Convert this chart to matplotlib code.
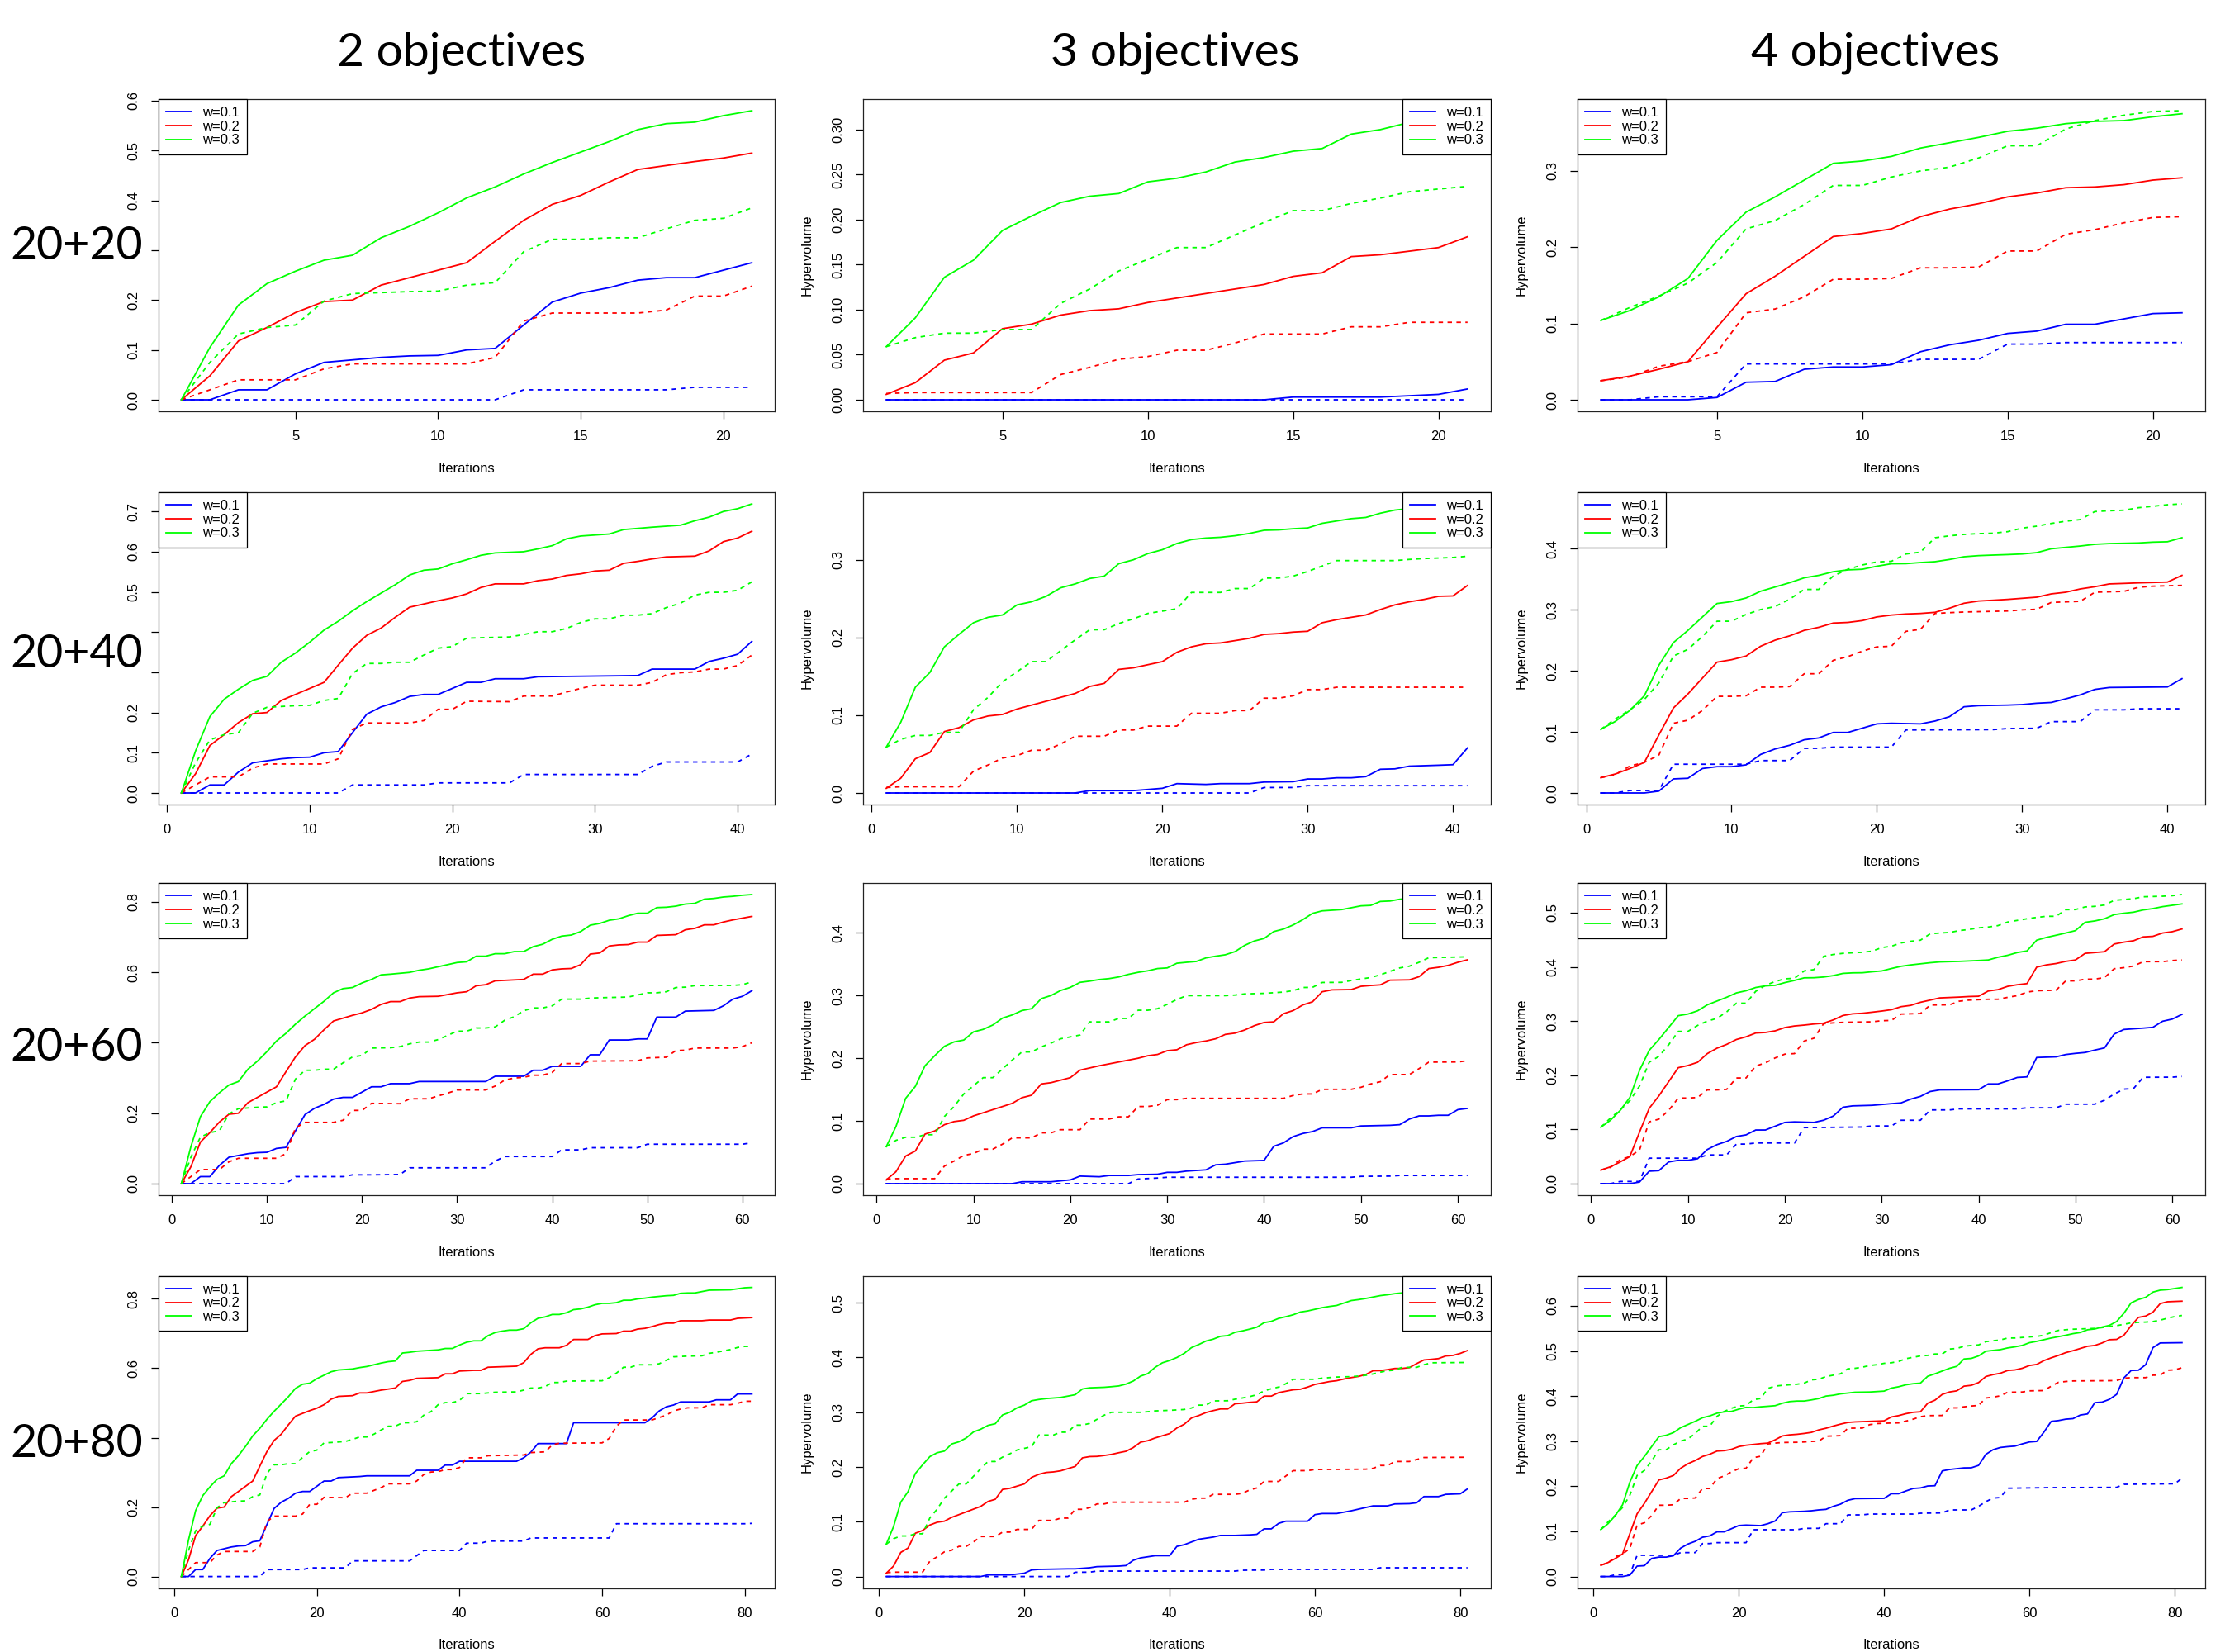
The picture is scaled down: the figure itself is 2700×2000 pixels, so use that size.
"""Hypervolume vs iterations grid: 2/3/4 objectives x 20+20..20+80 budgets."""

import matplotlib
matplotlib.use("Agg")
import matplotlib.pyplot as plt
from matplotlib.ticker import MultipleLocator

# ---------------------------------------------------------------- data
# each series is a list of (iteration, hypervolume); "_d" = dashed run.
# longer budgets share the first 21 iterations with the 20+20 run.
it20 = range(1, 22)

# 2 objectives, 20+20
o2_i20_w1 = list(zip(it20, [0, 0, .02, .02, .052, .075, .08, .085, .088, .089, .1, .103, .15, .196, .214, .225, .24, .245, .245, .26, .275]))
o2_i20_w1_d = list(zip(it20, [0, 0, 0, 0, 0, 0, 0, 0, 0, 0, 0, 0, .02, .02, .02, .02, .02, .02, .025, .025, .025]))
o2_i20_w2 = list(zip(it20, [0, .048, .118, .145, .175, .197, .2, .23, .245, .26, .275, .318, .36, .392, .41, .437, .462, .47, .478, .485, .495]))
o2_i20_w2_d = list(zip(it20, [0, .02, .04, .04, .04, .062, .072, .072, .072, .072, .072, .085, .158, .174, .174, .174, .174, .18, .208, .208, .228]))
o2_i20_w3 = list(zip(it20, [0, .105, .19, .233, .258, .28, .29, .325, .348, .375, .405, .427, .453, .476, .497, .518, .542, .554, .557, .57, .58]))
o2_i20_w3_d = list(zip(it20, [0, .075, .132, .145, .15, .198, .213, .215, .217, .218, .23, .235, .297, .322, .322, .325, .325, .343, .36, .364, .385]))

# 3 objectives, 20+20
o3_i20_w1 = list(zip(it20, [0, 0, 0, 0, 0, 0, 0, 0, 0, 0, 0, 0, 0, 0, .003, .003, .003, .003, .0045, .006, .012]))
o3_i20_w1_d = list(zip(it20, [0, 0, 0, 0, 0, 0, 0, 0, 0, 0, 0, 0, 0, 0, 0, 0, 0, 0, 0, 0, 0]))
o3_i20_w2 = list(zip(it20, [.006, .019, .044, .052, .079, .084, .094, .099, .101, .108, .113, .118, .123, .128, .137, .141, .159, .161, .165, .169, .181]))
o3_i20_w2_d = list(zip(it20, [.007, .008, .008, .008, .008, .008, .028, .036, .045, .048, .055, .055, .063, .073, .073, .073, .081, .081, .086, .086, .086]))
o3_i20_w3 = list(zip(it20, [.059, .091, .136, .155, .188, .204, .219, .226, .229, .242, .246, .253, .264, .269, .276, .279, .295, .3, .308, .313, .321]))
o3_i20_w3_d = list(zip(it20, [.059, .069, .074, .074, .078, .078, .107, .123, .143, .156, .169, .169, .183, .197, .21, .21, .218, .224, .231, .234, .237]))

# 4 objectives, 20+20
o4_i20_w1 = list(zip(it20, [0, 0, 0, 0, .003, .023, .024, .04, .043, .043, .046, .063, .072, .078, .087, .09, .099, .099, .106, .113, .114]))
o4_i20_w1_d = list(zip(it20, [0, 0, .004, .004, .004, .047, .047, .047, .047, .047, .047, .053, .053, .053, .073, .073, .075, .075, .075, .075, .075]))
o4_i20_w2 = list(zip(it20, [.025, .031, .04, .05, .095, .139, .162, .188, .214, .218, .224, .24, .25, .257, .266, .271, .278, .279, .282, .288, .291]))
o4_i20_w2_d = list(zip(it20, [.025, .03, .044, .05, .062, .114, .119, .135, .158, .158, .159, .173, .173, .174, .195, .195, .217, .223, .232, .239, .24]))
o4_i20_w3 = list(zip(it20, [.104, .117, .135, .159, .209, .246, .266, .288, .31, .313, .319, .33, .337, .344, .352, .356, .362, .365, .366, .371, .375]))
o4_i20_w3_d = list(zip(it20, [.104, .121, .136, .153, .18, .224, .235, .256, .281, .281, .292, .3, .305, .317, .333, .333, .355, .366, .373, .378, .379]))

# 2 objectives, 20+40
o2_i40_w1 = o2_i20_w1 + [(22, .275), (23, .284), (25, .284), (26, .289), (33, .292), (34, .308), (37, .308), (38, .327), (39, .335), (40, .345), (41, .377)]
o2_i40_w1_d = o2_i20_w1_d + [(24, .025), (25, .046), (33, .046), (34, .066), (35, .077), (40, .077), (41, .097)]
o2_i40_w2 = o2_i20_w2 + [(22, .511), (23, .52), (25, .52), (26, .528), (27, .532), (28, .541), (29, .545), (30, .552), (31, .554), (32, .571), (33, .576),
                         (34, .582), (35, .587), (37, .589), (38, .602), (39, .625), (40, .634), (41, .651)]
o2_i40_w2_d = o2_i20_w2_d + [(24, .227), (25, .241), (27, .241), (28, .251), (29, .26), (30, .268), (33, .268), (34, .275), (35, .294), (36, .299),
                             (37, .301), (38, .308), (39, .308), (40, .317), (41, .343)]
o2_i40_w3 = o2_i20_w3 + [(22, .591), (23, .597), (25, .6), (26, .607), (27, .615), (28, .632), (29, .639), (31, .644), (32, .655), (34, .661),
                         (36, .666), (37, .677), (38, .686), (39, .7), (40, .707), (41, .719)]
o2_i40_w3_d = o2_i20_w3_d + [(23, .387), (24, .388), (25, .394), (26, .401), (27, .401), (28, .409), (29, .424), (30, .433), (31, .433), (32, .442),
                             (33, .442), (34, .446), (35, .461), (36, .472), (37, .492), (38, .499), (39, .499), (40, .504), (41, .525)]

# 2 objectives, 20+60
o2_i60_w1 = o2_i20_w1 + [(22, .275), (23, .284), (25, .284), (26, .29), (33, .29), (34, .305), (37, .305), (38, .322), (39, .322), (40, .333),
                         (43, .333), (44, .366), (45, .366), (46, .408), (48, .408), (49, .411), (50, .411), (51, .473), (53, .473), (54, .49),
                         (57, .492), (58, .505), (59, .524), (60, .532), (61, .548)]
o2_i60_w1_d = o2_i20_w1_d + [(24, .026), (25, .045), (33, .045), (34, .064), (35, .077), (40, .077), (41, .096), (43, .096), (44, .102), (49, .102),
                             (50, .112), (60, .112), (61, .116)]
o2_i60_w2 = o2_i20_w2 + [(22, .509), (23, .517), (24, .517), (25, .527), (26, .531), (28, .532), (29, .537), (30, .542), (31, .545), (32, .562),
                         (33, .565), (34, .576), (37, .58), (38, .595), (39, .595), (40, .607), (41, .61), (42, .611), (43, .622), (44, .652),
                         (45, .655), (46, .675), (47, .678), (48, .679), (49, .686), (50, .686), (51, .705), (52, .706), (53, .707), (54, .721),
                         (55, .725), (56, .735), (57, .735), (58, .743), (59, .749), (60, .754), (61, .759)]
o2_i60_w2_d = o2_i20_w2_d + [(24, .227), (25, .241), (27, .241), (28, .249), (29, .257), (30, .266), (33, .266), (34, .277), (35, .294), (36, .3),
                             (37, .302), (38, .308), (39, .308), (40, .316), (41, .341), (43, .341), (44, .348), (49, .349), (50, .357), (52, .359),
                             (53, .378), (54, .379), (55, .385), (59, .385), (60, .389), (61, .4)]
o2_i60_w3 = o2_i20_w3 + [(22, .593), (23, .595), (25, .6), (26, .606), (27, .61), (28, .616), (29, .622), (30, .628), (31, .63), (32, .646),
                         (33, .646), (34, .653), (35, .653), (36, .659), (37, .659), (38, .673), (39, .68), (40, .694), (41, .703), (42, .706),
                         (43, .716), (44, .734), (45, .739), (46, .748), (47, .752), (48, .761), (49, .768), (50, .768), (51, .784), (52, .785),
                         (53, .788), (54, .794), (55, .796), (56, .808), (57, .81), (58, .814), (59, .816), (60, .819), (61, .821)]
o2_i60_w3_d = o2_i20_w3_d + [(23, .386), (24, .389), (25, .397), (26, .402), (27, .402), (28, .409), (29, .421), (30, .433), (31, .433), (32, .442),
                             (33, .442), (34, .445), (35, .464), (36, .474), (37, .491), (38, .499), (39, .499), (40, .505), (41, .524), (43, .524),
                             (44, .527), (45, .528), (48, .53), (49, .536), (50, .542), (51, .542), (52, .545), (53, .557), (54, .558), (55, .5625),
                             (59, .563), (60, .565), (61, .573)]

# 2 objectives, 20+80
o2_i80_w1 = o2_i20_w1 + [(22, .275), (23, .285), (26, .288), (27, .29), (33, .29), (34, .306), (37, .306), (38, .321), (39, .321), (40, .332),
                         (48, .332), (49, .342), (50, .358), (51, .383), (55, .383), (56, .443), (66, .443), (67, .457), (68, .477), (69, .489),
                         (70, .494), (71, .503), (75, .503), (76, .509), (78, .509), (79, .526), (81, .526)]
o2_i80_w1_d = o2_i20_w1_d + [(24, .025), (25, .045), (33, .045), (34, .06), (35, .075), (40, .075), (41, .096), (43, .096), (44, .102), (49, .102),
                             (50, .111), (61, .111), (62, .152), (80, .152), (81, .153)]
o2_i80_w2 = o2_i20_w2 + [(22, .511), (23, .519), (25, .521), (26, .529), (27, .529), (28, .533), (29, .537), (30, .54), (31, .543), (32, .562),
                         (33, .565), (34, .571), (37, .573), (38, .584), (39, .584), (40, .592), (42, .594), (43, .594), (44, .603), (48, .606),
                         (49, .616), (50, .64), (51, .656), (52, .659), (54, .659), (55, .666), (56, .683), (58, .683), (59, .694), (60, .699),
                         (62, .7), (63, .707), (64, .707), (65, .713), (66, .715), (67, .72), (68, .726), (69, .73), (70, .73), (71, .737),
                         (74, .737), (75, .739), (78, .739), (79, .744), (81, .746)]
o2_i80_w2_d = o2_i20_w2_d + [(24, .227), (25, .24), (27, .24), (28, .248), (29, .256), (30, .267), (33, .267), (34, .275), (35, .294), (36, .301),
                             (37, .302), (38, .308), (39, .308), (40, .314), (41, .342), (43, .342), (44, .348), (49, .35), (50, .357), (52, .359),
                             (53, .379), (54, .384), (60, .385), (61, .398), (62, .433), (63, .451), (67, .451), (68, .458), (69, .465), (70, .477),
                             (71, .4825), (72, .486), (74, .486), (75, .495), (78, .495), (79, .499), (80, .505), (81, .505)]
o2_i80_w3 = o2_i20_w3 + [(22, .59), (23, .595), (25, .598), (26, .602), (27, .605), (28, .61), (29, .615), (30, .619), (31, .621), (32, .644),
                         (33, .646), (34, .649), (37, .653), (38, .657), (39, .657), (40, .667), (41, .675), (42, .679), (43, .679), (44, .694),
                         (45, .703), (46, .707), (47, .71), (48, .71), (49, .714), (50, .731), (51, .744), (52, .748), (53, .755), (54, .755),
                         (55, .76), (56, .769), (57, .771), (58, .776), (59, .783), (60, .787), (61, .787), (62, .789), (63, .796), (64, .796),
                         (65, .8), (66, .802), (67, .805), (68, .807), (69, .809), (70, .81), (71, .816), (72, .817), (73, .817), (74, .821),
                         (75, .825), (78, .826), (79, .829), (80, .832), (81, .833)]
o2_i80_w3_d = o2_i20_w3_d + [(22, .386), (24, .389), (25, .395), (26, .402), (27, .402), (28, .41), (29, .422), (30, .433), (31, .433), (32, .443),
                             (33, .443), (34, .446), (35, .465), (36, .475), (37, .495), (38, .501), (39, .501), (40, .507), (41, .527), (43, .527),
                             (44, .529), (45, .531), (48, .532), (49, .537), (50, .543), (51, .543), (52, .547), (53, .559), (54, .559), (55, .563),
                             (60, .564), (61, .573), (62, .586), (63, .603), (64, .603), (65, .61), (67, .61), (68, .613), (69, .623), (70, .633),
                             (72, .635), (74, .636), (75, .643), (76, .646), (77, .65), (78, .654), (79, .66), (80, .663), (81, .663)]

# 3 objectives, 20+40
o3_i40_w1 = o3_i20_w1 + [(23, .011), (24, .012), (26, .012), (27, .014), (29, .0145), (30, .018), (31, .018), (32, .0195), (33, .0195), (34, .021),
                         (35, .0305), (36, .031), (37, .0345), (39, .0357), (40, .0364), (41, .058)]
o3_i40_w1_d = o3_i20_w1_d + [(26, 0), (27, .007), (29, .007), (30, .0094), (41, .0094)]
o3_i40_w2 = o3_i20_w2 + [(22, .188), (23, .192), (24, .193), (25, .196), (26, .199), (27, .204), (28, .205), (29, .207), (30, .208), (31, .219),
                         (32, .223), (33, .226), (34, .229), (35, .236), (36, .242), (37, .246), (38, .249), (39, .253), (40, .2535), (41, .267)]
o3_i40_w2_d = o3_i20_w2_d + [(22, .1025), (24, .1025), (25, .106), (26, .106), (27, .122), (28, .122), (29, .125), (30, .133), (31, .133),
                             (32, .136), (41, .136)]
o3_i40_w3 = o3_i20_w3 + [(22, .326), (23, .328), (24, .329), (25, .331), (26, .334), (27, .338), (28, .3385), (29, .34), (30, .341), (31, .347),
                         (32, .35), (33, .353), (34, .3545), (35, .36), (36, .364), (37, .366), (38, .368), (39, .369), (40, .37), (41, .372)]
o3_i40_w3_d = o3_i20_w3_d + [(22, .258), (24, .258), (25, .263), (26, .263), (27, .2765), (28, .2765), (29, .279), (30, .285), (31, .292),
                             (32, .299), (36, .299), (37, .3005), (38, .3016), (40, .303), (41, .3046)]

# 3 objectives, 20+60
o3_i60_w1 = o3_i20_w1 + [(23, .011), (24, .013), (26, .013), (27, .0144), (29, .015), (30, .018), (31, .018), (32, .02), (34, .022), (35, .03),
                         (36, .031), (37, .0335), (38, .036), (40, .037), (41, .0596), (42, .065), (43, .075), (44, .08), (45, .083), (46, .089),
                         (49, .089), (50, .092), (53, .093), (54, .094), (55, .103), (56, .108), (57, .108), (58, .109), (59, .109), (60, .118),
                         (61, .12)]
o3_i60_w1_d = o3_i20_w1_d + [(26, 0), (27, .0074), (29, .009), (30, .0102), (49, .0102), (50, .0116), (53, .012), (54, .013), (61, .013)]
o3_i60_w2 = o3_i20_w2 + [(22, .1845), (23, .188), (24, .191), (25, .194), (26, .197), (27, .2), (28, .204), (29, .206), (30, .212), (31, .2135),
                         (32, .2215), (33, .225), (34, .2275), (35, .231), (36, .238), (37, .24), (38, .245), (39, .252), (40, .257), (41, .258),
                         (42, .271), (43, .276), (44, .285), (45, .29), (46, .306), (47, .309), (49, .3095), (50, .3147), (51, .316), (52, .317),
                         (53, .3245), (55, .325), (56, .33), (57, .343), (58, .345), (59, .348), (60, .353), (61, .357)]
o3_i60_w2_d = o3_i20_w2_d + [(22, .103), (24, .103), (25, .1066), (26, .1066), (27, .123), (28, .123), (29, .125), (30, .134), (31, .134),
                             (32, .136), (42, .136), (43, .1406), (44, .143), (45, .143), (46, .1504), (49, .1504), (50, .1536), (51, .159),
                             (52, .1625), (53, .174), (55, .174), (56, .1834), (57, .1937), (60, .194), (61, .196)]
o3_i60_w3 = o3_i20_w3 + [(22, .323), (23, .3255), (24, .327), (25, .3296), (26, .3338), (27, .337), (28, .3394), (29, .343), (30, .344),
                         (31, .3515), (32, .353), (33, .3543), (34, .36), (35, .3627), (36, .365), (37, .37), (38, .38), (39, .387), (40, .391),
                         (41, .402), (42, .406), (43, .4125), (44, .421), (45, .431), (46, .435), (47, .436), (48, .437), (49, .44), (50, .443),
                         (51, .4437), (52, .45), (53, .4507), (54, .4535), (55, .455), (57, .456), (59, .458), (61, .461)]
o3_i60_w3_d = o3_i20_w3_d + [(22, .258), (24, .258), (25, .2635), (26, .2635), (27, .2765), (28, .2765), (29, .279), (30, .286), (31, .2937),
                             (32, .2998), (36, .2998), (37, .3007), (38, .3026), (40, .3035), (42, .3055), (43, .3077), (44, .3128), (45, .313),
                             (46, .3208), (48, .321), (49, .324), (50, .3264), (51, .3287), (52, .333), (53, .3385), (54, .344), (55, .3468),
                             (56, .353), (57, .3603), (61, .3617)]

# 3 objectives, 20+80
o3_i80_w1 = o3_i20_w1 + [(22, .013), (26, .014), (27, .014), (29, .016), (30, .018), (33, .019), (34, .02), (35, .0296), (36, .034), (37, .036),
                         (38, .038), (40, .038), (41, .055), (42, .058), (43, .063), (44, .068), (45, .07), (46, .072), (47, .075), (49, .075),
                         (51, .076), (52, .077), (53, .087), (54, .087), (55, .097), (56, .101), (59, .101), (60, .113), (61, .115), (63, .115),
                         (64, .1175), (65, .12), (66, .123), (67, .126), (68, .129), (70, .129), (71, .1325), (73, .133), (74, .1346), (75, .146),
                         (77, .146), (78, .15), (80, .151), (81, .16)]
o3_i80_w1_d = o3_i20_w1_d + [(26, 0), (27, .0078), (29, .008), (30, .0099), (49, .0099), (50, .0114), (53, .0118), (54, .013), (68, .013),
                             (69, .016), (81, .016)]
o3_i80_w2 = o3_i20_w2 + [(22, .1866), (23, .19), (24, .191), (25, .193), (26, .197), (27, .201), (28, .2167), (29, .219), (30, .2193), (31, .221),
                         (32, .223), (33, .226), (34, .2287), (35, .2355), (36, .2453), (37, .248), (38, .253), (39, .257), (40, .261),
                         (41, .2713), (42, .278), (43, .2895), (44, .294), (45, .2994), (46, .303), (47, .306), (48, .306), (49, .3155),
                         (50, .3165), (51, .318), (52, .319), (53, .3295), (54, .3295), (55, .3358), (56, .3384), (57, .341), (58, .342),
                         (59, .346), (60, .3508), (61, .3534), (62, .356), (63, .3576), (64, .3607), (65, .3633), (66, .3654), (67, .369),
                         (68, .3758), (69, .376), (70, .3779), (71, .38), (72, .38), (73, .3815), (74, .3888), (75, .3955), (76, .3966),
                         (77, .398), (78, .4028), (79, .4038), (80, .4075), (81, .4127)]
o3_i80_w2_d = o3_i20_w2_d + [(22, .1024), (24, .1024), (25, .1066), (26, .1066), (27, .1227), (28, .1227), (29, .1258), (30, .1325), (31, .1325),
                             (32, .1357), (42, .1357), (43, .141), (44, .143), (45, .143), (46, .15), (49, .15), (50, .1518), (51, .158),
                             (52, .1617), (53, .1736), (55, .1736), (56, .1835), (57, .1933), (59, .1933), (60, .1954), (67, .196), (68, .1975),
                             (69, .2027), (70, .2027), (71, .21), (73, .21), (74, .2136), (75, .2173), (81, .2178)]
o3_i80_w3 = o3_i20_w3 + [(22, .3233), (23, .325), (24, .326), (25, .327), (26, .3295), (27, .332), (28, .3425), (29, .3446), (31, .3456),
                         (32, .3467), (33, .348), (34, .3514), (35, .357), (36, .366), (37, .3706), (38, .382), (39, .3903), (40, .3945),
                         (41, .4), (42, .4075), (43, .418), (44, .4236), (45, .43), (46, .4335), (47, .4387), (48, .44), (49, .446), (50, .4485),
                         (51, .4517), (52, .4553), (53, .4636), (54, .466), (55, .4714), (56, .4745), (57, .478), (58, .483), (59, .485),
                         (60, .488), (61, .491), (62, .4932), (63, .495), (64, .4995), (65, .504), (66, .5057), (67, .5078), (68, .5104),
                         (69, .513), (70, .5146), (71, .5166), (72, .518), (74, .521), (77, .524), (79, .526), (81, .528)]
o3_i80_w3_d = o3_i20_w3_d + [(22, .2583), (24, .2583), (25, .2635), (26, .2635), (27, .2765), (28, .2765), (29, .2796), (30, .287), (31, .2947),
                             (32, .2999), (36, .2999), (37, .301), (38, .3025), (40, .3035), (42, .305), (43, .3077), (44, .313), (45, .313),
                             (46, .3207), (48, .321), (49, .3238), (50, .326), (51, .3285), (52, .332), (53, .339), (54, .343), (55, .346),
                             (56, .352), (57, .3602), (60, .3602), (61, .3623), (62, .3633), (63, .3643), (65, .365), (66, .366), (67, .3675),
                             (68, .37), (69, .3732), (70, .3758), (71, .3768), (72, .382), (74, .382), (75, .3867), (76, .3903), (81, .3909)]

# 4 objectives, 20+40
o4_i40_w1 = o4_i20_w1 + [(23, .113), (24, .1176), (25, .1248), (26, .141), (27, .1428), (29, .1437), (30, .1446), (31, .1468), (32, .148),
                         (33, .154), (34, .1604), (35, .1694), (36, .1725), (40, .1734), (41, .187)]
o4_i40_w1_d = o4_i20_w1_d + [(22, .103), (28, .1036), (29, .1054), (31, .1058), (32, .1167), (34, .1167), (35, .136), (37, .136), (38, .1378),
                             (41, .1378)]
o4_i40_w2 = o4_i20_w2 + [(22, .2928), (23, .2937), (24, .2955), (25, .3023), (26, .3104), (27, .314), (28, .3153), (29, .3167), (30, .3185),
                         (31, .3203), (32, .3257), (33, .3284), (34, .3338), (35, .3374), (36, .342), (37, .3428), (38, .3437), (40, .345),
                         (41, .356)]
o4_i40_w2_d = o4_i20_w2_d + [(22, .2644), (23, .2676), (24, .2937), (25, .295), (26, .296), (29, .2977), (30, .2995), (31, .3005), (32, .3117),
                             (33, .3126), (34, .3135), (35, .3284), (37, .3297), (38, .3365), (39, .3383), (41, .3396)]
o4_i40_w3 = o4_i20_w3 + [(22, .3752), (23, .377), (24, .3784), (25, .382), (26, .3865), (27, .3883), (28, .3892), (29, .39), (30, .391),
                         (31, .3932), (32, .3995), (33, .4018), (34, .404), (35, .4068), (36, .408), (38, .409), (39, .4104), (40, .411),
                         (41, .4176)]
o4_i40_w3_d = o4_i20_w3_d + [(22, .391), (23, .394), (24, .4176), (25, .4207), (26, .423), (27, .4243), (28, .425), (29, .4275), (30, .4333),
                             (31, .4365), (32, .441), (33, .4446), (34, .4473), (35, .4604), (36, .4617), (37, .4626), (38, .4667), (39, .469),
                             (40, .4716), (41, .473)]

# 4 objectives, 20+60
o4_i60_w1 = o4_i20_w1 + [(23, .113), (24, .117), (25, .1247), (26, .141), (27, .1435), (29, .1445), (30, .146), (31, .1476), (32, .149),
                         (33, .156), (34, .161), (35, .17), (36, .173), (40, .1734), (41, .184), (42, .184), (43, .1897), (44, .196), (45, .197),
                         (46, .2328), (48, .234), (49, .2383), (50, .2404), (51, .242), (52, .2465), (53, .2505), (54, .276), (55, .2845),
                         (57, .287), (58, .2885), (59, .2997), (60, .3037), (61, .3124)]
o4_i60_w1_d = o4_i20_w1_d + [(22, .1034), (28, .1045), (29, .1065), (31, .1065), (32, .117), (34, .117), (35, .136), (37, .136), (38, .138),
                             (44, .138), (45, .14), (48, .14), (49, .1466), (52, .1466), (53, .154), (54, .1653), (55, .1744), (56, .1755),
                             (57, .1963), (60, .1965), (61, .1978)]
o4_i60_w2 = o4_i20_w2 + [(22, .2926), (23, .2946), (24, .2961), (25, .3022), (26, .3103), (27, .3134), (28, .3144), (29, .3164), (30, .3185),
                         (31, .321), (32, .3266), (33, .329), (34, .3347), (35, .3387), (36, .3428), (38, .3443), (39, .3453), (40, .3458),
                         (41, .3555), (42, .358), (43, .3641), (44, .3671), (45, .3692), (46, .3996), (47, .4037), (48, .4062), (49, .4102),
                         (50, .4128), (51, .425), (52, .4265), (53, .428), (54, .4422), (55, .4457), (56, .4483), (57, .4554), (58, .4564),
                         (59, .4625), (60, .465), (61, .47)]
o4_i60_w2_d = o4_i20_w2_d + [(22, .2632), (23, .2683), (24, .2951), (25, .2967), (26, .2977), (29, .2987), (30, .3007), (31, .3012), (32, .3129),
                             (34, .3139), (35, .3296), (37, .33), (38, .3367), (39, .3387), (41, .3403), (42, .3403), (43, .3438), (44, .3469),
                             (45, .3535), (46, .356), (48, .357), (49, .3742), (50, .3742), (51, .3773), (52, .3775), (53, .3803), (54, .3966),
                             (55, .3986), (56, .4016), (57, .4097), (59, .4097), (60, .4118), (61, .4128)]
o4_i60_w3 = o4_i20_w3 + [(22, .3798), (23, .38), (24, .3813), (25, .3839), (26, .388), (27, .389), (28, .3892), (29, .391), (30, .3925),
                         (31, .397), (32, .4011), (33, .4037), (34, .4057), (35, .4077), (36, .4092), (38, .4102), (40, .4118), (41, .4128),
                         (42, .4178), (43, .4214), (44, .4265), (45, .4295), (46, .4493), (47, .4544), (48, .4584), (49, .4625), (50, .467),
                         (51, .4823), (52, .4848), (53, .4888), (54, .4965), (55, .499), (56, .501), (57, .5051), (58, .5076), (59, .5112),
                         (60, .5137), (61, .5162)]
o4_i60_w3_d = o4_i20_w3_d + [(22, .3925), (23, .395), (24, .4194), (25, .4229), (26, .425), (27, .426), (28, .427), (29, .429), (30, .4356),
                             (31, .4381), (32, .4442), (33, .4473), (34, .4493), (35, .461), (36, .4625), (37, .4635), (38, .467), (39, .469),
                             (40, .4721), (41, .4736), (42, .4762), (43, .4828), (44, .4858), (45, .4888), (46, .4914), (47, .4934), (48, .4934),
                             (49, .5056), (50, .5058), (51, .5107), (52, .5117), (53, .5142), (54, .5228), (55, .5243), (56, .5259), (57, .5294),
                             (59, .5304), (60, .5314), (61, .5335)]

# 4 objectives, 20+80
o4_i80_w1 = o4_i20_w1 + [(23, .1128), (24, .117), (25, .123), (26, .1415), (27, .1433), (29, .1445), (30, .1457), (31, .1476), (32, .1488),
                         (33, .1555), (34, .1604), (35, .1689), (36, .1726), (40, .1732), (41, .1835), (42, .1835), (43, .1896), (44, .1951),
                         (45, .1963), (46, .2006), (47, .2012), (48, .2341), (49, .2372), (50, .239), (51, .2408), (52, .241), (53, .2463),
                         (54, .2707), (55, .2811), (56, .286), (57, .2878), (58, .289), (59, .2939), (60, .2982), (61, .2994), (62, .3201),
                         (63, .3439), (64, .3457), (65, .3488), (66, .35), (67, .3579), (68, .3604), (69, .3854), (70, .3866), (71, .3927),
                         (72, .4037), (73, .4402), (74, .4567), (75, .4573), (76, .4695), (77, .5073), (78, .5177), (81, .5183)]
o4_i80_w1_d = o4_i20_w1_d + [(22, .1037), (28, .1037), (29, .1067), (31, .1067), (32, .117), (34, .117), (35, .1366), (37, .1366), (38, .1384),
                             (44, .1384), (45, .1402), (48, .1409), (49, .1476), (52, .1476), (53, .1555), (54, .1659), (55, .1738), (56, .175),
                             (57, .1957), (63, .197), (72, .1976), (73, .2043), (80, .2055), (81, .2177)]
o4_i80_w2 = o4_i20_w2 + [(22, .2927), (23, .2945), (24, .2957), (25, .303), (26, .3116), (27, .314), (28, .3152), (29, .3171), (30, .3195),
                         (31, .325), (32, .3287), (33, .3335), (34, .3378), (35, .3415), (36, .3427), (38, .3439), (40, .3451), (41, .3537),
                         (42, .3567), (43, .361), (44, .364), (45, .3652), (46, .3841), (47, .3909), (48, .4037), (49, .4091), (50, .4116),
                         (51, .422), (52, .4238), (53, .4299), (54, .4433), (55, .4476), (56, .4506), (57, .4567), (58, .4579), (59, .4616),
                         (60, .4677), (61, .4701), (62, .4787), (63, .4848), (64, .4902), (65, .4963), (66, .5006), (67, .5055), (68, .5104),
                         (69, .5122), (70, .5177), (71, .525), (72, .5256), (73, .5348), (74, .5561), (75, .5744), (76, .5774), (77, .586),
                         (78, .6049), (79, .6091), (81, .6104)]
o4_i80_w2_d = o4_i20_w2_d + [(22, .2634), (23, .2665), (24, .2939), (25, .2957), (26, .297), (28, .2975), (29, .2982), (30, .2994), (31, .3),
                             (32, .311), (34, .3122), (35, .3287), (37, .329), (38, .3366), (39, .339), (41, .3402), (42, .3405), (43, .3445),
                             (44, .3488), (45, .3543), (46, .3567), (48, .357), (49, .3738), (50, .3738), (51, .3762), (52, .378), (53, .3793),
                             (54, .3957), (55, .3976), (56, .4006), (57, .4085), (59, .409), (60, .4116), (62, .4122), (63, .422), (64, .4305),
                             (65, .4323), (66, .4335), (71, .4341), (72, .4345), (73, .4396), (74, .4409), (76, .4409), (77, .4463), (78, .4465),
                             (79, .4573), (80, .458), (81, .4628)]
o4_i80_w3 = o4_i20_w3 + [(22, .3744), (23, .3762), (24, .3774), (25, .3787), (26, .3841), (27, .3878), (28, .389), (29, .389), (30, .3915),
                         (31, .3945), (32, .4), (33, .4018), (34, .4049), (35, .4067), (36, .4085), (38, .409), (40, .411), (41, .4177),
                         (42, .4207), (43, .425), (44, .4274), (45, .4287), (46, .4439), (47, .4494), (48, .4555), (49, .4616), (50, .4659),
                         (51, .4823), (52, .4835), (53, .489), (54, .4994), (55, .5012), (56, .503), (57, .5067), (58, .5091), (59, .5122),
                         (60, .5183), (61, .5213), (62, .525), (63, .5287), (64, .5317), (65, .5348), (66, .5384), (67, .5409), (68, .547),
                         (69, .5488), (70, .553), (71, .5567), (72, .5652), (73, .5835), (74, .6067), (75, .614), (76, .6189), (77, .6305),
                         (78, .6348), (79, .636), (80, .6384), (81, .6409)]
o4_i80_w3_d = o4_i20_w3_d + [(22, .392), (23, .3945), (24, .417), (25, .422), (26, .4238), (27, .425), (28, .4262), (29, .4287), (30, .436),
                             (31, .4372), (32, .4433), (33, .4463), (34, .4494), (35, .4604), (36, .4616), (37, .464), (38, .4677), (39, .4695),
                             (40, .4726), (41, .4738), (42, .4768), (43, .4829), (44, .486), (45, .489), (46, .4902), (47, .4933), (48, .4933),
                             (49, .5043), (50, .5055), (51, .5104), (52, .5122), (53, .5134), (54, .5207), (55, .5226), (56, .5244), (57, .5287),
                             (58, .5287), (59, .5299), (60, .5311), (61, .5323), (62, .5348), (63, .5409), (64, .5457), (65, .547), (66, .5482),
                             (67, .5488), (68, .5494), (69, .55), (70, .5518), (71, .5543), (72, .5561), (73, .5591), (74, .5622), (75, .5634),
                             (76, .564), (77, .5652), (78, .5683), (79, .5726), (80, .5762), (81, .5787)]

col_titles = ["2 objectives", "3 objectives", "4 objectives"]
row_labels = ["20+20", "20+40", "20+60", "20+80"]
legend_labels = ["w=0.1", "w=0.2", "w=0.3"]

# rows = budget, cols = objectives; each cell: w1, w1 dashed, w2, w2 dashed, w3, w3 dashed
panels = [
    [[o2_i20_w1, o2_i20_w1_d, o2_i20_w2, o2_i20_w2_d, o2_i20_w3, o2_i20_w3_d],
     [o3_i20_w1, o3_i20_w1_d, o3_i20_w2, o3_i20_w2_d, o3_i20_w3, o3_i20_w3_d],
     [o4_i20_w1, o4_i20_w1_d, o4_i20_w2, o4_i20_w2_d, o4_i20_w3, o4_i20_w3_d]],
    [[o2_i40_w1, o2_i40_w1_d, o2_i40_w2, o2_i40_w2_d, o2_i40_w3, o2_i40_w3_d],
     [o3_i40_w1, o3_i40_w1_d, o3_i40_w2, o3_i40_w2_d, o3_i40_w3, o3_i40_w3_d],
     [o4_i40_w1, o4_i40_w1_d, o4_i40_w2, o4_i40_w2_d, o4_i40_w3, o4_i40_w3_d]],
    [[o2_i60_w1, o2_i60_w1_d, o2_i60_w2, o2_i60_w2_d, o2_i60_w3, o2_i60_w3_d],
     [o3_i60_w1, o3_i60_w1_d, o3_i60_w2, o3_i60_w2_d, o3_i60_w3, o3_i60_w3_d],
     [o4_i60_w1, o4_i60_w1_d, o4_i60_w2, o4_i60_w2_d, o4_i60_w3, o4_i60_w3_d]],
    [[o2_i80_w1, o2_i80_w1_d, o2_i80_w2, o2_i80_w2_d, o2_i80_w3, o2_i80_w3_d],
     [o3_i80_w1, o3_i80_w1_d, o3_i80_w2, o3_i80_w2_d, o3_i80_w3, o3_i80_w3_d],
     [o4_i80_w1, o4_i80_w1_d, o4_i80_w2, o4_i80_w2_d, o4_i80_w3, o4_i80_w3_d]],
]

# ---------------------------------------------------------------- layout / style
COLORS = ["#0000ff", "#ff0000", "#00ff00"]
LEFTS = [0.0711, 0.387, 0.7074]
WIDTHS = [0.2763, 0.2815, 0.2815]
BOTTOMS = [0.751, 0.513, 0.2765, 0.0387]
AX_H = 0.189
X_STEP = [5, 10, 10, 20]
Y_STEP = [[0.1, 0.05, 0.1], [0.1, 0.1, 0.1], [0.2, 0.1, 0.1], [0.2, 0.1, 0.1]]
TITLE_X = [0.207, 0.527, 0.841]
ROW_Y = [0.851, 0.6035, 0.3655, 0.126]

plt.rcParams["font.family"] = ["Liberation Sans", "DejaVu Sans"]

fig = plt.figure(figsize=(27, 20), dpi=100)
first_col_axes = []

for r in range(4):
    for c in range(3):
        ax = fig.add_axes([LEFTS[c], BOTTOMS[r], WIDTHS[c], AX_H])
        series = panels[r][c]
        handles = []
        for k in range(3):
            xs, ys = zip(*series[2 * k])
            h, = ax.plot(xs, ys, color=COLORS[k], lw=1.3)
            handles.append(h)
            xs, ys = zip(*series[2 * k + 1])
            ax.plot(xs, ys, color=COLORS[k], lw=1.3, dashes=(3, 3))

        ax.margins(x=0.04, y=0.04)
        ax.xaxis.set_major_locator(MultipleLocator(X_STEP[r]))
        ax.yaxis.set_major_locator(MultipleLocator(Y_STEP[r][c]))
        ax.tick_params(direction="out", length=6.5, width=0.9, labelsize=12, pad=10)
        ax.tick_params(axis="y", labelrotation=90)
        for spine in ax.spines.values():
            spine.set_linewidth(0.9)
            spine.set_color("#222222")
        ax.set_xlabel("Iterations", fontsize=12, labelpad=17)
        if c > 0:
            ax.set_ylabel("Hypervolume", fontsize=12, labelpad=16)
        else:
            first_col_axes.append(ax)

        ax.autoscale_view()
        for lab in ax.get_yticklabels():
            lab.set_verticalalignment("center")

        leg = ax.legend(handles, legend_labels, loc="upper right" if c == 1 else "upper left",
                        fontsize=12, frameon=True, fancybox=False, framealpha=1, edgecolor="black",
                        borderaxespad=0, borderpad=0.55, labelspacing=0.1, handlelength=1.85,
                        handletextpad=0.8)
        leg.get_frame().set_linewidth(0.9)

for c, title in enumerate(col_titles):
    fig.text(TITLE_X[c], 0.968, title, fontsize=41, family=["Lato", "DejaVu Sans"],
             ha="center", va="center")

row_texts = []
for r, label in enumerate(row_labels):
    t = fig.text(0.0045, ROW_Y[r], label, fontsize=40, family=["Lato", "DejaVu Sans"],
                 ha="left", va="center",
                 bbox=dict(facecolor="white", edgecolor="none", pad=4))
    row_texts.append(t)

# the big row labels sit on top of the first column's y tick labels, as in the source;
# drop the tick labels they would cover instead of letting them collide.
fig.canvas.draw()
renderer = fig.canvas.get_renderer()
for ax, t in zip(first_col_axes, row_texts):
    box = t.get_window_extent(renderer).expanded(1.0, 1.15)
    box.x1 += 14
    for lab in ax.get_yticklabels():
        if lab.get_text() and box.overlaps(lab.get_window_extent(renderer)):
            lab.set_visible(False)

fig.savefig("out.png", dpi=100)
